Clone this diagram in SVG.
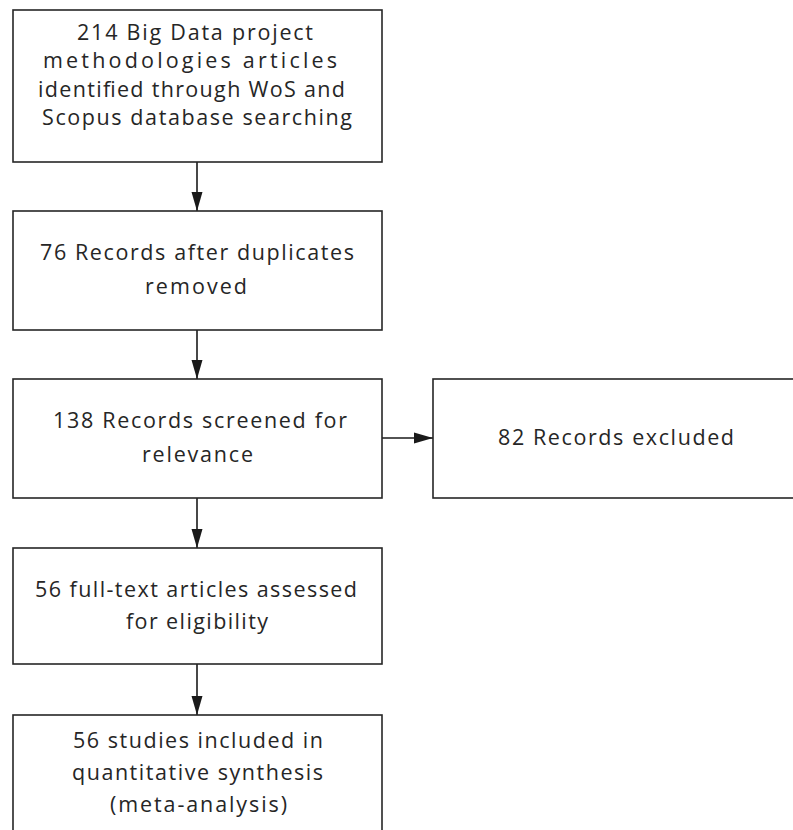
<svg xmlns="http://www.w3.org/2000/svg" width="793" height="830" viewBox="0 0 793 830">
<style>
.box{fill:#fff;stroke:#262626;stroke-width:1.6}
.t{font-family:"Open Sans","Liberation Sans",Arial,sans-serif;font-size:21.5px;fill:#262626;text-anchor:middle}
.c{stroke:#1a1a1a;stroke-width:1.6;fill:none;marker-end:url(#ah)}
</style>
<defs>
<marker id="ah" markerUnits="userSpaceOnUse" markerWidth="20" markerHeight="12" refX="19" refY="6" orient="auto">
<path d="M0,0.5 L19,6 L0,11.5 Z" fill="#1a1a1a"/>
</marker>
</defs>
<rect width="793" height="830" fill="#fff"/>
<g id="connectors">
<line class="c" x1="197" y1="162" x2="197" y2="211"/>
<line class="c" x1="197" y1="330" x2="197" y2="379"/>
<line class="c" x1="197" y1="498" x2="197" y2="548"/>
<line class="c" x1="197" y1="664" x2="197" y2="715"/>
<line class="c" x1="382" y1="438" x2="433" y2="438"/>
</g>
<g id="n1">
<rect class="box" x="13" y="10" width="369" height="152"/>
<text class="t" x="195" y="40" textLength="236" lengthAdjust="spacing">214 Big Data project</text>
<text class="t" x="190" y="68" textLength="294" lengthAdjust="spacing">methodologies articles</text>
<text class="t" x="191.5" y="97" textLength="307" lengthAdjust="spacing">identified through WoS and</text>
<text class="t" x="197" y="125" textLength="310" lengthAdjust="spacing">Scopus database searching</text>
</g>
<g id="n2">
<rect class="box" x="13" y="211" width="369" height="119"/>
<text class="t" x="197" y="260" textLength="314" lengthAdjust="spacing">76 Records after duplicates</text>
<text class="t" x="196" y="294" textLength="102" lengthAdjust="spacing">removed</text>
</g>
<g id="n3">
<rect class="box" x="13" y="379" width="369" height="119"/>
<text class="t" x="200" y="428" textLength="294" lengthAdjust="spacing">138 Records screened for</text>
<text class="t" x="197.5" y="462" textLength="111" lengthAdjust="spacing">relevance</text>
</g>
<g id="n4">
<rect class="box" x="433" y="379" width="370" height="119"/>
<text class="t" x="616" y="445" textLength="236" lengthAdjust="spacing">82 Records excluded</text>
</g>
<g id="n5">
<rect class="box" x="13" y="548" width="369" height="116"/>
<text class="t" x="196" y="597" textLength="322" lengthAdjust="spacing">56 full-text articles assessed</text>
<text class="t" x="197" y="629" textLength="142" lengthAdjust="spacing">for eligibility</text>
</g>
<g id="n6">
<rect class="box" x="13" y="715" width="369" height="130"/>
<text class="t" x="198" y="748" textLength="250" lengthAdjust="spacing">56 studies included in</text>
<text class="t" x="197.5" y="780" textLength="251" lengthAdjust="spacing">quantitative synthesis</text>
<text class="t" x="198.5" y="812" textLength="177" lengthAdjust="spacing">(meta-analysis)</text>
</g>
</svg>
